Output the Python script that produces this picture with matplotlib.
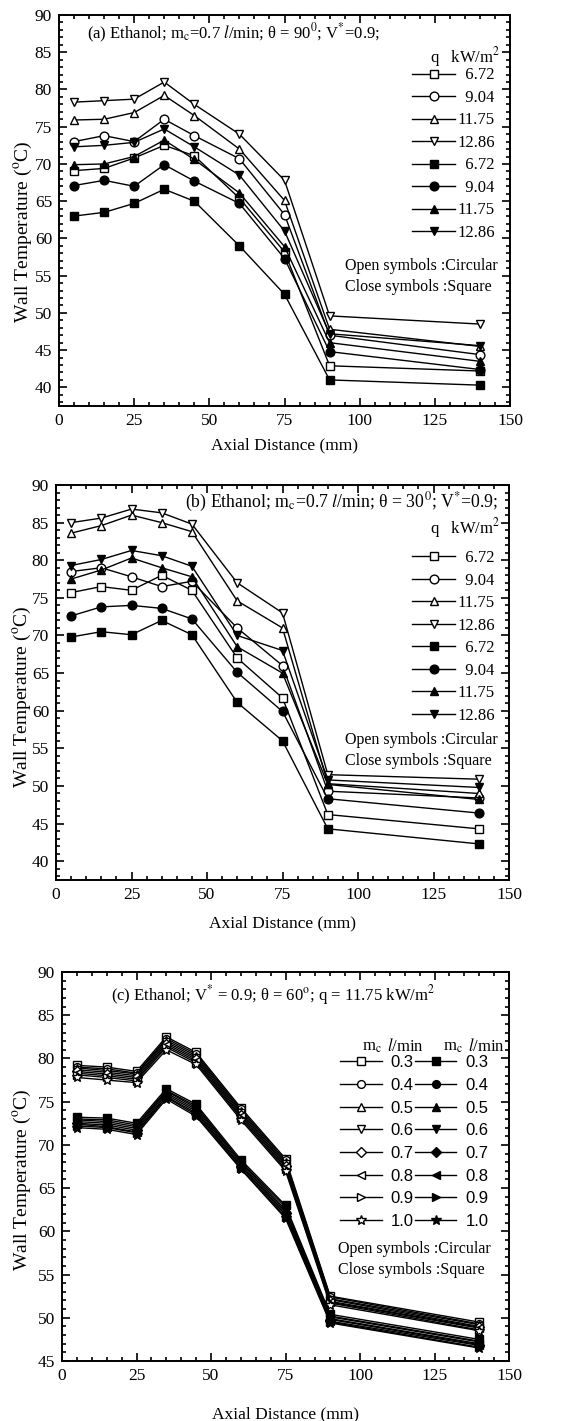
import numpy as np
import matplotlib
matplotlib.use('Agg')
import matplotlib.pyplot as plt
from matplotlib.ticker import MultipleLocator

plt.rcParams['font.family'] = ['Liberation Serif', 'DejaVu Serif']
plt.rcParams['mathtext.fontset'] = 'stix'

# axial positions of the thermocouples (mm)
x = [5, 15, 25, 35, 45, 60, 75, 90, 140]

# (a) theta = 90 deg, heat flux series
q_labels = ['  6.72', '  9.04', '11.75', '12.86']
a_open = [
    [69.1, 69.4, 70.8, 72.5, 71.1, 65.4, 58.2, 42.9, 42.2],
    [73.0, 73.8, 73.0, 76.0, 73.8, 70.7, 63.2, 47.0, 44.4],
    [75.9, 76.0, 76.9, 79.2, 76.5, 72.0, 65.1, 47.8, 45.5],
    [78.3, 78.5, 78.7, 81.0, 78.0, 74.0, 67.8, 49.6, 48.5],
]
a_closed = [
    [63.0, 63.5, 64.7, 66.6, 65.0, 59.0, 52.5, 41.0, 40.3],
    [67.1, 67.8, 67.0, 69.9, 67.7, 64.7, 57.3, 44.8, 42.4],
    [69.9, 70.0, 71.0, 73.2, 70.6, 66.1, 58.9, 46.0, 43.5],
    [72.3, 72.5, 72.9, 74.7, 72.3, 68.5, 61.0, 47.2, 45.6],
]

# (b) theta = 30 deg
b_open = [
    [75.7, 76.5, 76.0, 78.0, 76.0, 67.0, 61.7, 46.2, 44.3],
    [78.5, 79.0, 77.8, 76.5, 77.2, 71.0, 66.0, 49.3, 48.4],
    [83.6, 84.6, 86.0, 85.0, 83.8, 74.6, 71.0, 50.3, 49.0],
    [85.0, 85.6, 86.8, 86.3, 84.8, 77.0, 73.0, 51.5, 50.9],
]
b_closed = [
    [69.8, 70.5, 70.1, 72.0, 70.1, 61.1, 56.0, 44.3, 42.3],
    [72.6, 73.8, 74.0, 73.6, 72.2, 65.1, 59.9, 48.3, 46.4],
    [77.5, 78.7, 80.3, 79.0, 77.8, 68.5, 65.0, 50.2, 48.2],
    [79.3, 80.1, 81.3, 80.6, 79.2, 70.0, 68.0, 50.8, 49.8],
]

# (c) theta = 60 deg, coolant flow series
m_labels = ['0.3', '0.4', '0.5', '0.6', '0.7', '0.8', '0.9', '1.0']
c_open = [
    [79.2, 79.0, 78.5, 82.5, 80.7, 74.3, 68.4, 52.5, 49.5],
    [79.0, 78.8, 78.3, 82.3, 80.5, 74.1, 68.2, 52.4, 49.3],
    [78.9, 78.6, 78.2, 82.1, 80.3, 73.9, 68.0, 52.2, 49.2],
    [78.7, 78.4, 78.0, 81.9, 80.1, 73.7, 67.8, 52.1, 49.0],
    [78.5, 78.2, 77.8, 81.7, 79.9, 73.5, 67.6, 51.9, 48.9],
    [78.3, 78.0, 77.6, 81.5, 79.7, 73.3, 67.4, 51.8, 48.8],
    [78.1, 77.8, 77.4, 81.3, 79.5, 73.1, 67.2, 51.7, 48.6],
    [77.8, 77.5, 77.2, 81.0, 79.3, 72.9, 67.0, 51.5, 48.5],
]
c_closed = [
    [73.2, 73.1, 72.5, 76.5, 74.7, 68.3, 63.0, 50.4, 47.5],
    [73.0, 72.9, 72.3, 76.3, 74.5, 68.1, 62.8, 50.2, 47.3],
    [72.9, 72.7, 72.1, 76.2, 74.3, 68.0, 62.5, 50.1, 47.2],
    [72.7, 72.5, 71.9, 76.0, 74.1, 67.8, 62.3, 49.9, 47.0],
    [72.5, 72.3, 71.7, 75.8, 73.9, 67.6, 62.1, 49.8, 46.9],
    [72.4, 72.1, 71.5, 75.6, 73.7, 67.5, 61.9, 49.6, 46.8],
    [72.2, 72.0, 71.4, 75.5, 73.5, 67.3, 61.7, 49.5, 46.6],
    [72.0, 71.8, 71.2, 75.3, 73.3, 67.2, 61.5, 49.4, 46.5],
]

q_markers = ['s', 'o', '^', 'v']
m_markers = ['s', 'o', '^', 'v', 'D', '<', '>', '*']

W, H = 562, 1421
fig = plt.figure(figsize=(W / 100, H / 100), dpi=100)


def px_axes(l, t, r, b):
    return fig.add_axes([l / W, 1 - b / H, (r - l) / W, (b - t) / H])


def style_axes(ax, ymin, ymax, labelpad, ylab_xy):
    ax.set_xlim(0, 150)
    ax.set_ylim(ymin, ymax)
    ax.xaxis.set_major_locator(MultipleLocator(25))
    ax.xaxis.set_minor_locator(MultipleLocator(5))
    ax.yaxis.set_major_locator(MultipleLocator(5))
    ax.yaxis.set_minor_locator(MultipleLocator(1))
    ax.tick_params(which='both', direction='in', top=True, right=True,
                   labelsize=12.5, width=1.2)
    ax.tick_params(which='major', length=6, pad=5)
    ax.tick_params(which='minor', length=3)
    for s in ax.spines.values():
        s.set_linewidth(1.4)
    ax.set_xlabel('Axial Distance (mm)', fontsize=12.5, labelpad=labelpad)
    ax.set_ylabel('Wall Temperature ($^{\\rm o}$C)', fontsize=14)
    ax.yaxis.set_label_coords(*ylab_xy)


def draw(ax, series, markers, filled, ms=6.3):
    handles = []
    for ys, mk in zip(series, markers):
        size = ms + 2 if mk == '*' else (ms - 1 if mk == 'D' else ms)
        h, = ax.plot(x, ys, color='black', lw=1.0, marker=mk, ms=size,
                     mfc='black' if filled else 'white', mec='black', mew=1.0)
        handles.append(h)
    return handles


def q_legend(ax, handles, lx, ty):
    ax.legend(handles, q_labels * 2, loc='upper left', bbox_to_anchor=(lx, ty),
              frameon=False, fontsize=12, handlelength=2.6, handletextpad=0.1,
              labelspacing=0.39, borderpad=0, borderaxespad=0)


note = 'Open symbols :Circular\nClose symbols :Square'

# ---- panel (a)
ax1 = px_axes(59, 15, 510, 406)
ho = draw(ax1, a_open, q_markers, False)
hc = draw(ax1, a_closed, q_markers, True)
style_axes(ax1, 37.5, 90, 6, (-0.056, 0.445))
ax1.text(0.062, 0.954, '(a) Ethanol; m$_{\\rm c}$=0.7 $l$/min; θ = 90$^{0}$; V$^{*}$=0.9;',
         transform=ax1.transAxes, fontsize=12, va='center')
ax1.text(0.822, 0.893, 'q   kW/m$^2$', transform=ax1.transAxes, fontsize=12, va='center')
q_legend(ax1, ho + hc, 0.783, 0.866)
ax1.text(0.634, 0.332, note, transform=ax1.transAxes, fontsize=11.5, va='center',
         linespacing=1.4)

# ---- panel (b)
ax2 = px_axes(56, 485, 509, 880)
ho = draw(ax2, b_open, q_markers, False)
hc = draw(ax2, b_closed, q_markers, True)
style_axes(ax2, 37.5, 90, 9, (-0.051, 0.463))
ax2.text(0.285, 0.957, '(b) Ethanol; m$_{\\rm c}$=0.7 $l$/min; θ = 30$^{0}$; V$^{*}$=0.9;',
         transform=ax2.transAxes, fontsize=12.8, va='center')
ax2.text(0.825, 0.89, 'q   kW/m$^2$', transform=ax2.transAxes, fontsize=12, va='center')
q_legend(ax2, ho + hc, 0.786, 0.835)
ax2.text(0.638, 0.327, note, transform=ax2.transAxes, fontsize=11.5, va='center',
         linespacing=1.4)

# ---- panel (c)
ax3 = px_axes(62, 972, 509, 1361)
ho = draw(ax3, c_open, m_markers, False, ms=5.6)
hc = draw(ax3, c_closed, m_markers, True, ms=5.6)
style_axes(ax3, 45, 90, 16, (-0.065, 0.465))
ax3.text(0.472, 0.941, '(c) Ethanol; V$^{*}$ = 0.9; θ = 60$^{\\rm o}$; q = 11.75 kW/m$^2$',
         transform=ax3.transAxes, fontsize=12, va='center', ha='center')
for hx in (0.671, 0.852):
    ax3.text(hx, 0.808, 'm$_{\\rm c}$', transform=ax3.transAxes, fontsize=12, va='center')
    ax3.text(hx + 0.056, 0.808, '$l$/min', transform=ax3.transAxes, fontsize=12, va='center')
ax3.legend(ho + hc, m_labels * 2, loc='upper left', bbox_to_anchor=(0.622, 0.786),
           ncol=2, frameon=False, handlelength=2.5, handletextpad=0.55,
           labelspacing=0.46, columnspacing=0.05, borderpad=0, borderaxespad=0,
           prop={'family': ['Liberation Sans', 'DejaVu Sans'], 'size': 12})
ax3.text(0.617, 0.26, note, transform=ax3.transAxes, fontsize=11.5, va='center',
         linespacing=1.4)

fig.savefig('out.png', dpi=100)
